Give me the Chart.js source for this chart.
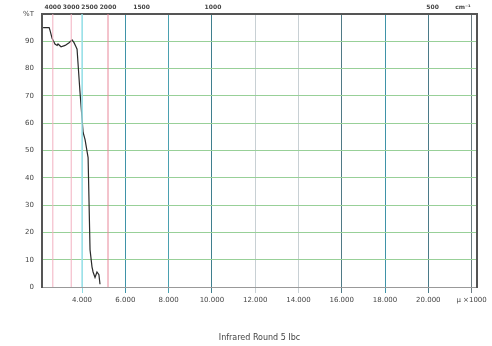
<!DOCTYPE html>
<html><head><meta charset="utf-8">
<script src="https://cdn.jsdelivr.net/npm/chart.js@4"></script>
<style>html,body{margin:0;padding:0;background:#fff}canvas{display:block}</style>
</head><body>
<canvas id="c" width="492" height="346"></canvas>
<script>
// wavelength (micron) and transmittance (%T)
const waveX = [2.2, 2.48, 2.52, 2.62, 2.75, 2.85, 2.89, 3.03, 3.22, 3.4, 3.54, 3.63, 3.72, 3.77, 3.9, 4.05, 4.14, 4.28, 4.37, 4.46, 4.51, 4.6, 4.69, 4.78, 4.83];
const transY = [95, 95, 94, 91, 89, 88.5, 89, 88, 88.5, 89.5, 90.5, 89.5, 88, 87.1, 72, 56.6, 54, 47.4, 13.6, 7.4, 5.5, 3.5, 5.5, 4.5, 1];
const bottomTicks = [4, 6, 8, 10, 12, 14, 16, 18, 20, 22];
const bottomLabels = ["4.000", "6.000", "8.000", "10.000", "12.000", "14.000", "16.000", "18.000", "20.000", "\u03bc \u00d71000"];
const bottomGridColors = ["#8fdce4", "#3f93a8", "#4aa0b0", "#3f7f8e", "#c8d0d4", "#c8d0d4", "#4f7a86", "#3f93a8", "#4a7a88", "#6a7a80"];
const topTicks = [2.65, 3.5, 4.35, 5.2, 6.75, 10.05, 20.2, 21.6];
const topLabels = ["4000", "3000", "2500", "2000", "1500", "1000", "500", "cm\u207b\u00b9"];
const pinkLines = [2.65, 3.5, 5.2];
const pinkColors = ["#f2b0c0", "#f2b0c0", "#e8889a"];
const cyanLines = [4.0];
const yTicks = [0, 10, 20, 30, 40, 50, 60, 70, 80, 90, 100];

const X_MIN = 2.15, X_MAX = 22.25;
const datasets = [];
pinkLines.forEach((v, i) => datasets.push({
  data: [{x: v, y: 0}, {x: v, y: 100}], borderColor: pinkColors[i], borderWidth: 1, pointRadius: 0
}));
cyanLines.forEach(v => datasets.push({
  data: [{x: v, y: 0}, {x: v, y: 100}], borderColor: "#a0e2ea", borderWidth: 1.5, pointRadius: 0
}));
datasets.push({
  data: waveX.map((x, i) => ({x, y: transY[i]})),
  borderColor: "#2a2a2a", borderWidth: 1.2, pointRadius: 0, tension: 0
});

const font = {family: "DejaVu Sans", size: 7};
new Chart(document.getElementById("c"), {
  type: "line",
  data: {datasets},
  options: {
    responsive: false, animation: false, events: [],
    layout: {padding: {left: 0, right: 13, top: 0, bottom: 0}},
    plugins: {legend: {display: false}, tooltip: {enabled: false}},
    scales: {
      x: {
        type: "linear", position: "bottom", min: X_MIN, max: X_MAX,
        afterBuildTicks: s => { s.ticks = bottomTicks.map(v => ({value: v})); },
        afterFit: s => { s.height = 59; },
        ticks: {autoSkip: false, maxRotation: 0, font, color: "#444", padding: 3,
          callback: (v, i) => bottomLabels[i]},
        grid: {color: c => bottomGridColors[c.index] || "#ccc", lineWidth: 1, tickLength: 6},
        border: {color: "#999", width: 1},
        title: {display: true, text: "Infrared Round 5 Ibc", font: {family: "DejaVu Sans", size: 8}, color: "#444", padding: {top: 0, bottom: 3}}
      },
      xTop: {
        type: "linear", position: "top", min: X_MIN, max: X_MAX,
        afterBuildTicks: s => { s.ticks = topTicks.map(v => ({value: v})); },
        afterFit: s => { s.height = 14; },
        ticks: {autoSkip: false, maxRotation: 0, font: {family: "DejaVu Sans", size: 6, weight: "bold"}, color: "#444", padding: 3,
          callback: (v, i) => topLabels[i]},
        grid: {display: false, drawTicks: false},
        border: {color: "#555", width: 2}
      },
      y: {
        min: 0, max: 100,
        afterBuildTicks: s => { s.ticks = yTicks.map(v => ({value: v})); },
        afterFit: s => { s.width = 42; },
        ticks: {font, color: "#444", padding: 8, callback: v => v === 100 ? "%T" : v},
        grid: {color: "#98d098", lineWidth: 1, drawTicks: false},
        border: {color: "#555", width: 2}
      },
      yR: {
        position: "right", min: 0, max: 100, display: true,
        afterFit: s => { s.width = 2; },
        ticks: {display: false}, grid: {display: false},
        border: {color: "#555", width: 2}
      }
    }
  }
});
</script>
</body></html>
